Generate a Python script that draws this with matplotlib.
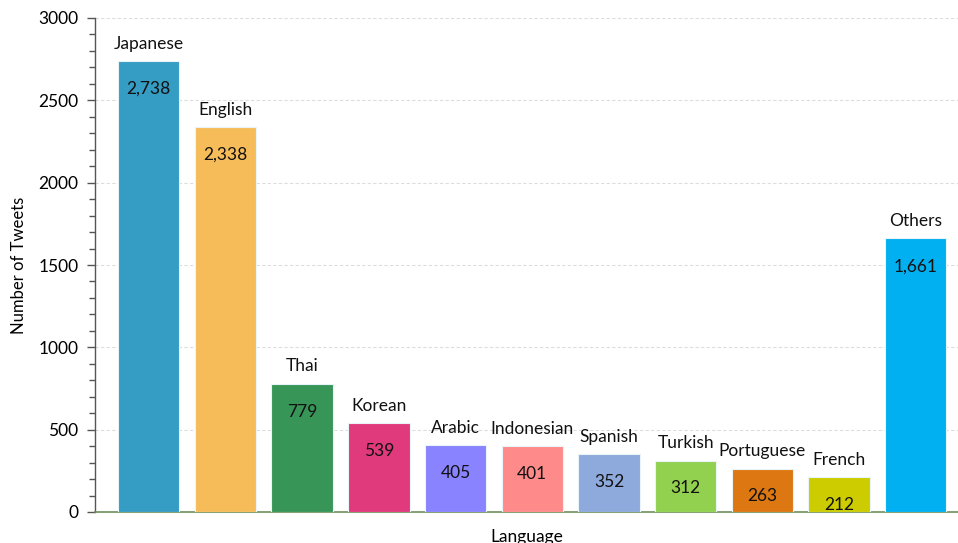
import matplotlib
matplotlib.use("Agg")
import matplotlib.pyplot as plt
from matplotlib.ticker import MultipleLocator

languages = ["Japanese", "English", "Thai", "Korean", "Arabic", "Indonesian",
             "Spanish", "Turkish", "Portuguese", "French", "Others"]
tweets = [2738, 2338, 779, 539, 405, 401, 352, 312, 263, 212, 1661]
colors = ["#359CC3", "#F6BC5A", "#389558", "#E13A7C", "#8A83FF", "#FF8A8A",
          "#8EA9DB", "#92D050", "#DD7711", "#CCCC00", "#00B0F0"]

plt.rcParams['font.family'] = ['Lato', 'DejaVu Sans']

fig = plt.figure(figsize=(9.58, 5.43), dpi=100)
ax = fig.add_axes([95/958, 31/543, 1 - 95/958, 494/543])

x = list(range(len(languages)))
ax.bar(x, tweets, width=0.8, color=colors, edgecolor="#e8f4f8", linewidth=0.8, zorder=3)

for xi, v, name in zip(x, tweets, languages):
    ax.annotate(name, (xi, v), xytext=(0, 12.5), textcoords="offset points",
                ha="center", va="center", fontsize=12.5, color="#111111")
    ax.annotate(f"{v:,}", (xi, v), xytext=(0, -20), textcoords="offset points",
                ha="center", va="center", fontsize=12.5, color="#111111")

ax.set_xlim(-0.7, 10.55)
ax.set_ylim(0, 3000)
ax.yaxis.set_major_locator(MultipleLocator(500))
ax.yaxis.set_minor_locator(MultipleLocator(100))
ax.set_xticks([])
ax.tick_params(axis='y', which='major', direction='out', length=6, width=1,
               color="#555555", labelsize=12.5, pad=6)
ax.tick_params(axis='y', which='minor', direction='out', length=4, width=1, color="#555555")
ax.grid(axis='y', which='major', linestyle=(0, (3, 2)), color="#dddddd", linewidth=0.8, zorder=0)

for s in ["top", "right"]:
    ax.spines[s].set_visible(False)
ax.spines["left"].set_color("#555555")
ax.spines["bottom"].set_color("#6f8f5a")
ax.spines["left"].set_linewidth(1)
ax.spines["bottom"].set_linewidth(1.2)

ax.set_ylabel("Number of Tweets", fontsize=12, labelpad=8)
ax.set_xlabel("Language", fontsize=12.5, labelpad=12)

fig.savefig("out.png", dpi=100)
